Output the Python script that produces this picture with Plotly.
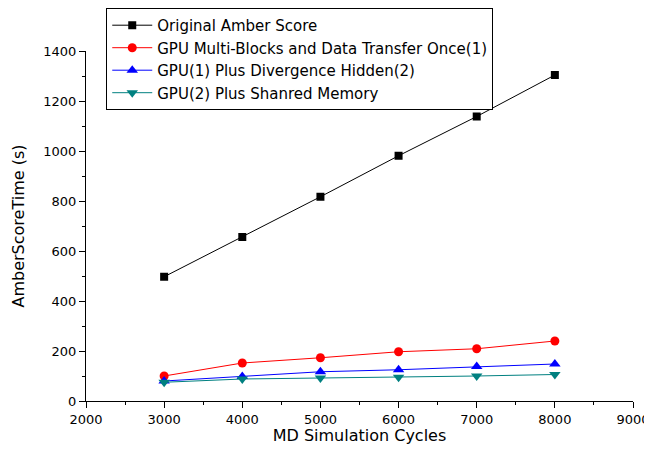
import plotly.graph_objects as go

cycles = [3000, 4000, 5000, 6000, 7000, 8000]
original = [497, 656, 817, 981, 1138, 1304]
gpu_multi = [100, 152, 173, 197, 209, 240]
gpu_div = [80, 98, 117, 125, 138, 148]
gpu_shared = [75, 88, 92, 95, 100, 106]

names = ["Original Amber Score",
         "GPU Multi-Blocks and Data Transfer Once(1)",
         "GPU(1) Plus Divergence Hidden(2)",
         "GPU(2) Plus Shanred Memory"]

series = [original, gpu_multi, gpu_div, gpu_shared]
colors = ["#000000", "#ff0000", "#0000ff", "#008080"]
symbols = ["square", "circle", "triangle-up", "triangle-down"]
sizes = [8, 9, 10, 10]

fig = go.Figure()
for name, ys, c, s, sz in zip(names, series, colors, symbols, sizes):
    fig.add_trace(go.Scatter(x=cycles, y=ys, name=name, mode="lines+markers",
                             line=dict(color=c, width=1),
                             marker=dict(symbol=s, size=sz, color=c)))

font = "DejaVu Sans, sans-serif"
fig.update_layout(
    width=644, height=437,
    margin=dict(l=78, r=19, t=43, b=44, autoexpand=False),
    plot_bgcolor="white", paper_bgcolor="white",
    font=dict(family=font, color="black"),
    showlegend=True,
    legend=dict(x=0.037, y=1.123, xanchor="left", yanchor="top",
                bgcolor="white", bordercolor="black", borderwidth=1,
                font=dict(size=15, family=font), tracegroupgap=0,
                itemwidth=40),
    xaxis=dict(range=[2000, 9000], dtick=1000, showline=True, linecolor="black",
               linewidth=1, ticks="outside", ticklen=6, tickcolor="black",
               showgrid=False, zeroline=False, tickfont=dict(size=13),
               ticklabeloverflow="allow",
               minor=dict(dtick=500, ticks="outside", ticklen=3, tickcolor="black"),
               title=dict(text="MD Simulation Cycles", font=dict(size=16), standoff=7)),
    yaxis=dict(range=[0, 1400], dtick=200, showline=True, linecolor="black",
               linewidth=1, ticks="outside", ticklen=6, tickcolor="black",
               showgrid=False, zeroline=False, tickfont=dict(size=13),
               minor=dict(dtick=100, ticks="outside", ticklen=3, tickcolor="black"),
               title=dict(text="AmberScoreTime (s)", font=dict(size=16), standoff=14)),
)

fig.write_html("out.html")
